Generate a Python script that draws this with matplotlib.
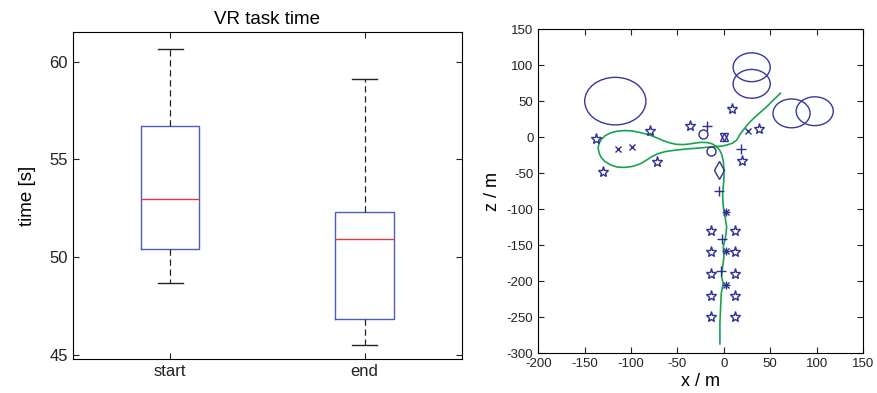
import numpy as np
import matplotlib.pyplot as plt
from matplotlib.patches import Ellipse

plt.rcParams['font.family'] = ['Liberation Sans', 'DejaVu Sans']
plt.rcParams['axes.unicode_minus'] = False

# left panel: box plot summary
groups = ["start", "end"]
whisker_low = [48.66, 45.53]
q1 = [50.40, 46.84]
medians = [52.97, 50.91]
q3 = [56.73, 52.34]
whisker_high = [60.66, 59.13]

# right panel: obstacles (circles), markers and the walked path
circle_x = [-117, 30, 30, 73, 98]
circle_z = [50, 97, 74, 33, 36]
circle_r = [33, 20, 20, 20, 20]

star_x = [-138, -130, -80, -72, -36, 9, 38, 20,
          -14, 12, -14, 12, -14, 12, -14, 12, -14, 12]
star_z = [-2, -49, 9, -34, 16, 39, 11, -33,
          -130, -130, -160, -160, -190, -190, -220, -220, -250, -250]
cross_x = [-114, -99, 26]
cross_z = [-17, -14, 8.5]
plus_x = [-18, 18, -5, -2, -3]
plus_z = [16, -16.5, -75, -141, -186]
aster_x = [2, 2, 2]
aster_z = [-103.5, -158, -205.6]
ring_x = [-22, -14]
ring_z = [4, -19]
diamond_x = [-5]
diamond_z = [-46]
hexa_x = [0]
hexa_z = [0]

path_x = [61, 53, 46, 39, 32, 26, 21, 17, 14, 9, 3, -3, -8,
          -13, -18, -26, -36, -45, -55, -63, -70, -77, -83, -90, -98, -107,
          -115, -122, -128, -132, -134.5, -135.5, -134.5, -132, -128, -122,
          -115, -106, -98, -89, -80, -72, -65, -58, -51, -43, -36, -30, -24,
          -18, -13, -8, -4.5, -2, -0.5, 0, 0.2, 0, -1.3, -1, -0.5, 1.2, 3,
          2.5, 1.2, -0.6, 0.1, -1.3, -2.4, -0.6, -2.8, -3.4, -4.2, -4.2]
path_z = [61, 51, 42, 34, 26, 18, 10, 3, -4, -8.5, -11, -12.5, -13,
          -13.5, -14, -15, -16, -17, -18.5, -20, -22.5, -26.5, -31.5, -37,
          -40.5, -42, -41.5, -38.5, -34, -28.5, -22, -15, -8.5, -3, 2, 6,
          8.3, 9.2, 8.5, 6, 3, -1, -5, -8, -10, -10.3, -9.3, -8, -7.2,
          -7.5, -9, -13, -18, -25, -34, -43, -52, -60, -78, -88, -97, -110,
          -124, -133, -143, -152, -166, -180, -194, -203, -217, -235, -258,
          -287]

navy = '#2e3192'
green = '#17a54a'

fig = plt.figure(figsize=(8.77, 3.93), dpi=100)

# ---- box plot ----
ax1 = fig.add_axes([0.0832, 0.0865, 0.4433, 0.8313])
stats = []
for i in range(len(groups)):
    stats.append(dict(label=groups[i], whislo=whisker_low[i], q1=q1[i],
                      med=medians[i], q3=q3[i], whishi=whisker_high[i]))
ax1.bxp(stats, positions=[1, 2], widths=0.3, capwidths=0.13, showfliers=False,
        boxprops=dict(color='#4b5cc4', lw=1),
        medianprops=dict(color='#e23b3b', lw=1),
        whiskerprops=dict(color='#222222', lw=0.9, linestyle=(0, (5, 3))),
        capprops=dict(color='#222222', lw=1))
ax1.set_xlim(0.5, 2.5)
ax1.set_ylim(44.8, 61.5)
ax1.set_yticks([45, 50, 55, 60])
ax1.set_ylabel("time [s]", fontsize=13.5, labelpad=10)
ax1.set_title("VR task time", fontsize=13.5, pad=6)
ax1.tick_params(direction='in', top=True, right=True, length=4, labelsize=12,
                colors='#222222')

# ---- trajectory ----
ax2 = fig.add_axes([0.6138, 0.101, 0.3702, 0.825])
for cx, cz, r in zip(circle_x, circle_z, circle_r):
    ax2.add_patch(Ellipse((cx, cz), 2 * r, 2 * r, fill=False, ec='#35389c', lw=1))
ax2.plot(path_x, path_z, color=green, lw=1.2)
mk = dict(linestyle='none', color=navy, mfc='none', mew=1)
ax2.plot(star_x, star_z, marker='*', ms=8, **mk)
ax2.plot(cross_x, cross_z, marker='x', ms=5, **mk)
ax2.plot(plus_x, plus_z, marker='+', ms=7, **mk)
ax2.plot(aster_x, aster_z, marker='+', ms=6, **mk)
ax2.plot(aster_x, aster_z, marker='x', ms=4.5, **mk)
ax2.plot(ring_x, ring_z, marker='o', ms=6.5, **mk)
ax2.plot(diamond_x, diamond_z, marker='d', ms=9, **mk)
ax2.plot(hexa_x, hexa_z, marker='^', ms=5.5, **mk)
ax2.plot(hexa_x, hexa_z, marker='v', ms=5.5, **mk)
ax2.set_xlim(-200, 150)
ax2.set_ylim(-300, 150)
ax2.set_xticks(np.arange(-200, 151, 50))
ax2.set_yticks(np.arange(-300, 151, 50))
ax2.set_xlabel("x / m", fontsize=13, labelpad=2)
ax2.set_ylabel("z / m", fontsize=13, labelpad=4)
ax2.tick_params(direction='in', top=True, right=True, length=4, labelsize=9.5,
                colors='#222222')

fig.savefig("out.png", dpi=100)
